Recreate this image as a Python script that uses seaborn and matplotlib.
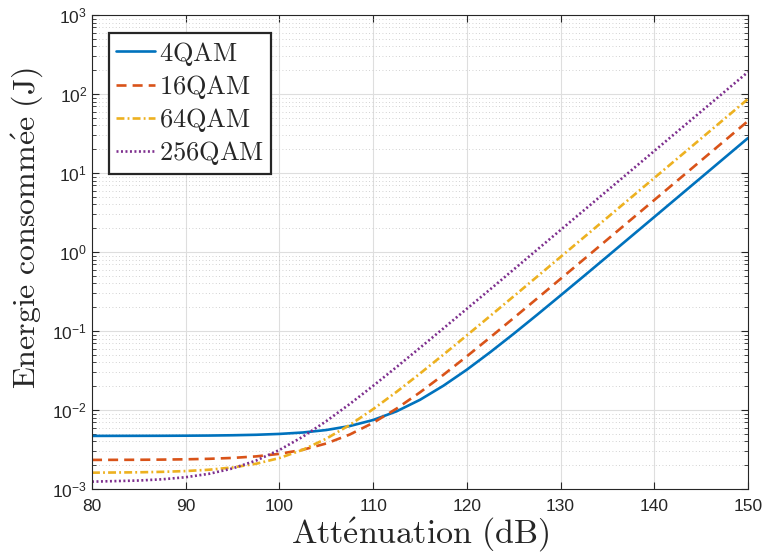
import numpy as np
import pandas as pd
import matplotlib
matplotlib.use("Agg")
import matplotlib.pyplot as plt
import matplotlib.ticker as mticker
from matplotlib.font_manager import FontProperties
from matplotlib.lines import Line2D
import seaborn as sns

# ---- data ----
att = [80, 85, 87.5, 90, 92.5, 95, 97.5, 100, 102.5, 105, 107.5, 110, 112.5, 115,
       117.5, 120, 122.5, 125, 127.5, 130, 132.5, 135, 140, 145, 150]
e_4qam = [0.00470, 0.00471, 0.004716, 0.00473, 0.004749, 0.00479, 0.004856, 0.00498,
          0.00519, 0.00558, 0.00626, 0.00747, 0.00962, 0.01346, 0.0203, 0.0324,
          0.0540, 0.0923, 0.1605, 0.282, 0.4972, 0.881, 2.775, 8.76, 27.7]
e_16qam = [0.002335, 0.002344, 0.002356, 0.002376, 0.002411, 0.002474, 0.002586,
           0.002785, 0.003139, 0.003769, 0.004888, 0.00688, 0.01042, 0.01672,
           0.02791, 0.04783, 0.08323, 0.1462, 0.2581, 0.4573, 0.8113, 1.441, 4.55,
           14.39, 45.5]
e_64qam = [0.001609, 0.001627, 0.001649, 0.001687, 0.001754, 0.001874, 0.002086,
           0.002465, 0.003138, 0.004335, 0.006464, 0.01025, 0.01698, 0.02895,
           0.05024, 0.0881, 0.1554, 0.2751, 0.488, 0.8666, 1.538, 2.735, 8.65,
           27.35, 86.5]
e_256qam = [0.001239, 0.00128, 0.001327, 0.00141, 0.001558, 0.001821, 0.002288,
            0.00312, 0.004598, 0.007228, 0.0119, 0.02022, 0.035, 0.0613, 0.108,
            0.1912, 0.3378, 0.6008, 1.069, 1.9, 3.378, 6.008, 19.0, 60.08, 190.0]
labels = ["4QAM", "16QAM", "64QAM", "256QAM"]
x_ticks = [80, 90, 100, 110, 120, 130, 140, 150]
y_ticks = [1e-3, 1e-2, 1e-1, 1e0, 1e1, 1e2, 1e3]

series = [e_4qam, e_16qam, e_64qam, e_256qam]
df = pd.concat([pd.DataFrame({"att": att, "E": s, "mod": lab})
                for s, lab in zip(series, labels)], ignore_index=True)

sns.set_style("ticks")
plt.rcParams["mathtext.fontset"] = "custom"
plt.rcParams["mathtext.rm"] = "Liberation Sans"
plt.rcParams["mathtext.it"] = "Liberation Sans:italic"
plt.rcParams["font.family"] = ["Liberation Sans", "DejaVu Sans"]

colors = ["#0072BD", "#D95319", "#EDB120", "#7E2F8E"]
palette = dict(zip(labels, colors))
LW = 1.9
dashes = {"4QAM": "", "16QAM": (3.8, 2.3), "64QAM": (3.0, 1.2, 0.7, 1.2), "256QAM": (0.75, 0.95)}

fig = plt.figure(figsize=(7.62, 5.60), dpi=100)
ax = fig.add_axes([92 / 762, 71 / 560, 656 / 762, 474 / 560])

sns.lineplot(data=df, x="att", y="E", hue="mod", style="mod", palette=palette,
             dashes=dashes, linewidth=LW, ax=ax, legend=False, estimator=None)

ax.set_yscale("log")
ax.set_xlim(80, 150)
ax.set_ylim(1e-3, 1e3)
ax.set_xticks(x_ticks)
ax.xaxis.set_minor_locator(mticker.NullLocator())
ax.yaxis.set_major_locator(mticker.FixedLocator(y_ticks))
minor = [m * t for t in y_ticks[:-1] for m in range(2, 10)]
ax.yaxis.set_minor_locator(mticker.FixedLocator(minor))
ax.yaxis.set_major_formatter(mticker.LogFormatterSciNotation())
ax.yaxis.set_minor_formatter(mticker.NullFormatter())

ax.grid(True, which="major", color="#dedede", linewidth=0.8, linestyle="-")
ax.grid(True, which="minor", axis="y", color="#c4c4c4", linewidth=0.6, linestyle=(0, (1, 3)))
ax.set_axisbelow(True)

for sp in ax.spines.values():
    sp.set_color("#262626")
    sp.set_linewidth(0.8)
    sp.set_visible(True)
ax.tick_params(which="both", direction="in", top=True, right=True, colors="#262626",
               labelsize=12.5)
ax.tick_params(which="major", length=5, width=0.8)
ax.tick_params(which="minor", length=3, width=0.6)
ax.tick_params(axis="x", pad=7)

ax.set_xlabel(r"$\mathrm{Att\acute{e}nuation\ (dB)}$", fontsize=24.5, math_fontfamily="cm",
              labelpad=1, color="#262626")
ax.set_ylabel(r"$\mathrm{Energie\ consomm\acute{e}e\ (J)}$", fontsize=23, math_fontfamily="cm",
              color="#262626")
ax.yaxis.set_label_coords(-0.072, 0.551)

handles = []
for lab in labels:
    d = dashes[lab]
    ls = "-" if d == "" else (0, d)
    handles.append(Line2D([], [], color=palette[lab], linewidth=LW, linestyle=ls))
leg = ax.legend(handles, [r"$\mathrm{%s}$" % l for l in labels],
                loc="upper left", bbox_to_anchor=(17 / 656, 456 / 474), borderaxespad=0,
                prop=FontProperties(size=19, math_fontfamily="cm"),
                frameon=True, fancybox=False, framealpha=1, edgecolor="#262626",
                handlelength=1.5, handletextpad=0.15, labelspacing=0.2,
                borderpad=0.25)
leg.get_frame().set_linewidth(1.6)

fig.savefig("out.png", dpi=100)
